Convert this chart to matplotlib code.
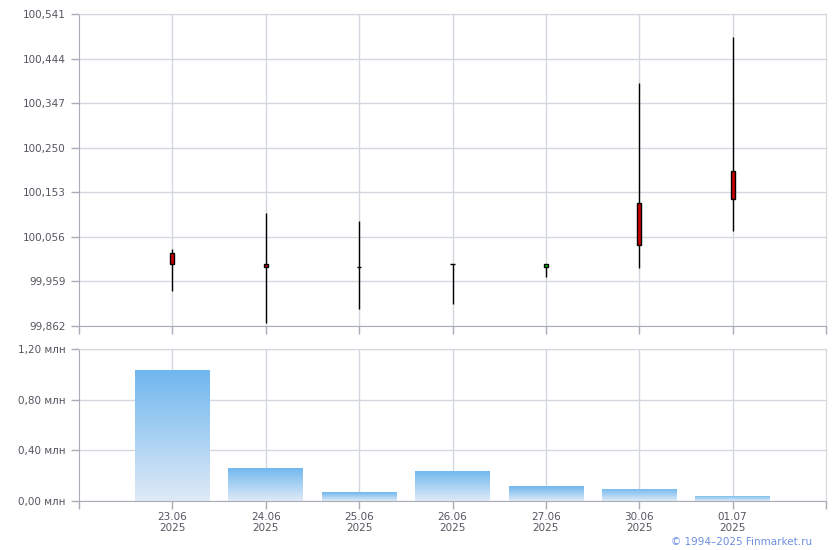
import matplotlib
matplotlib.use("Agg")
import matplotlib.pyplot as plt
import numpy as np
from matplotlib.patches import Rectangle
from matplotlib.colors import LinearSegmentedColormap

dates = ["23.06\n2025", "24.06\n2025", "25.06\n2025", "26.06\n2025",
         "27.06\n2025", "30.06\n2025", "01.07\n2025"]
opens = [100.020, 99.998, 99.990, 99.998, 99.990, 100.129, 100.199]
highs = [100.029, 100.109, 100.090, 99.998, 99.998, 100.390, 100.490]
lows = [99.939, 99.869, 99.898, 99.909, 99.969, 99.989, 100.069]
closes = [99.998, 99.990, 99.990, 99.998, 99.998, 100.039, 100.139]
volumes = [1.034, 0.263, 0.071, 0.237, 0.118, 0.095, 0.042]

price_ticks = [99.862, 99.959, 100.056, 100.153, 100.250, 100.347, 100.444, 100.541]
vol_ticks = [0.0, 0.4, 0.8, 1.2]

grid_c = "#d3d8de"
axis_c = "#a9adb8"
text_c = "#555560"

fig = plt.figure(figsize=(8.4, 5.5), dpi=100)
ax1 = fig.add_axes([79/840, 1-326/550, (826-79)/840, (326-14)/550])
ax2 = fig.add_axes([79/840, 1-501/550, (826-79)/840, (501-349)/550])

x = np.arange(len(dates))

for ax in (ax1, ax2):
    ax.set_xlim(-1, 7)
    ax.set_xticks(np.arange(-1, 8))
    ax.grid(True, color=grid_c, linewidth=1)
    ax.set_axisbelow(True)
    for s in ("top", "right"):
        ax.spines[s].set_color(grid_c)
    for s in ("left", "bottom"):
        ax.spines[s].set_color(axis_c)
    ax.tick_params(colors=axis_c, labelcolor=text_c, labelsize=7.5, length=6, width=1)
    ax.tick_params(axis="x", pad=2)

for ax in (ax1, ax2):
    gl = ax.get_xgridlines()
    gl[0].set_visible(False)
    gl[-1].set_visible(False)

# candles
bw = 0.045
for i in range(len(x)):
    ax1.vlines(x[i], lows[i], highs[i], color="black", linewidth=1, zorder=3)
    o, c = opens[i], closes[i]
    if o == c:
        ax1.hlines(o, x[i]-bw/2, x[i]+bw/2, color="black", linewidth=1, zorder=4)
    else:
        fc = "#cc0000" if c < o else "#00cc00"
        ax1.add_patch(Rectangle((x[i]-bw/2, min(o, c)), bw, abs(o-c),
                                facecolor=fc, edgecolor="black", linewidth=1, zorder=4))

ax1.set_ylim(price_ticks[0], price_ticks[-1])
ax1.set_yticks(price_ticks)
ax1.set_yticklabels([f"{v:.3f}".replace(".", ",") for v in price_ticks])
ax1.set_xticklabels([])

# volume bars with vertical gradient
bars = ax2.bar(x, volumes, width=0.8, color="none", edgecolor="none", zorder=2)
grad = np.linspace(0, 1, 256).reshape(-1, 1)
cmap = LinearSegmentedColormap.from_list("g", ["#dfeaf6", "#6fb7ef"])
for b, v, xi in zip(bars, volumes, x):
    im = ax2.imshow(grad, extent=(xi-0.4, xi+0.4, 0, v), origin="lower",
                    cmap=cmap, aspect="auto", zorder=2, interpolation="bilinear")
    im.set_clip_path(b)
ax2.set_xlim(-1, 7)
ax2.set_ylim(0, 1.2)
ax2.set_yticks(vol_ticks)
ax2.set_yticklabels([f"{v:.2f}".replace(".", ",") + " млн" for v in vol_ticks])
ax2.set_xticklabels([""] + dates + [""], linespacing=1.05)

fig.text(812/840, 1-542/550, "© 1994–2025 Finmarket.ru", color="#6e8fe0",
         fontsize=7.5, ha="right", va="center")

fig.savefig("out.png", dpi=100)
